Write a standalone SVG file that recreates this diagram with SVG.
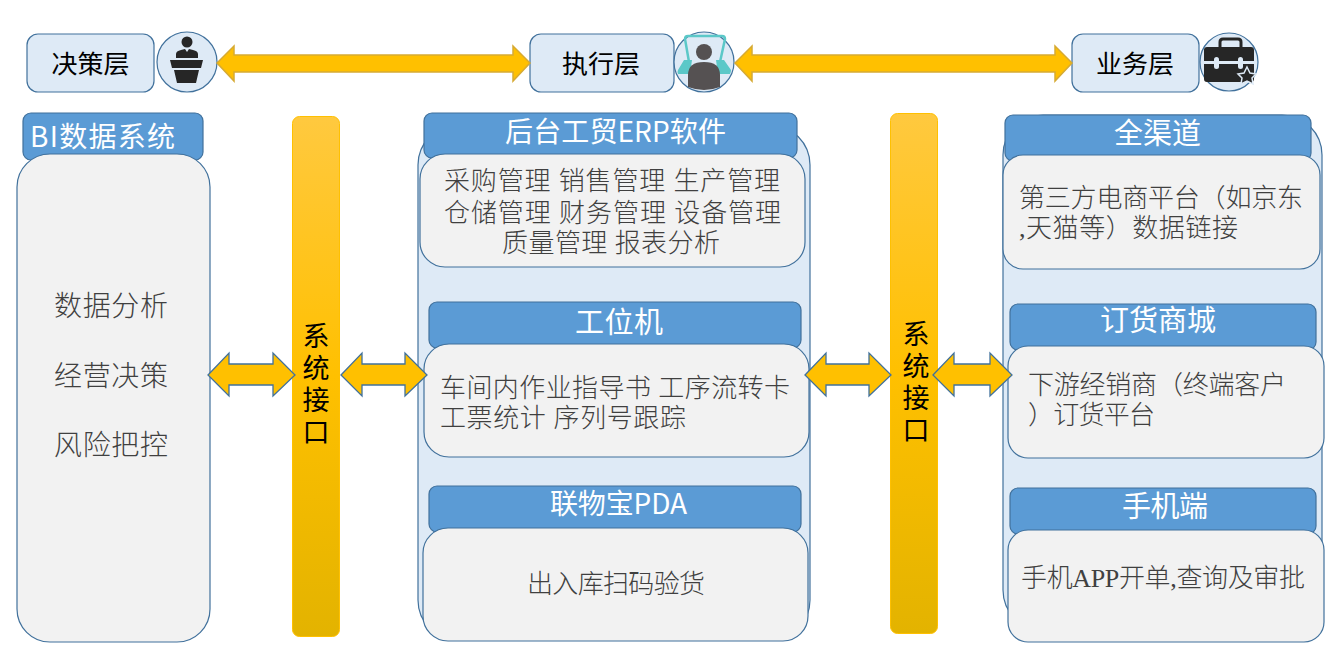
<svg xmlns="http://www.w3.org/2000/svg" width="1344" height="664" viewBox="0 0 1344 664">
<style>
text{font-family:"Liberation Serif","Noto Sans CJK SC",serif}
.s{font-family:"Noto Sans CJK SC",sans-serif}
.layer{fill:#deeaf6;stroke:#41719c;stroke-width:1.2}
.panel{fill:#deeaf6;stroke:#41719c;stroke-width:1.2}
.hd{fill:#5b9bd5;stroke:#41719c;stroke-width:1.2}
.bd{fill:#f2f2f2;stroke:#41719c;stroke-width:1.2}
.pillar{fill:url(#g);stroke:#ffc000;stroke-width:1}
.ta{fill:#ffc000;stroke:#d6aa33;stroke-width:1.5}
.da{fill:#ffc000;stroke:#41719c;stroke-width:1.3}
.lt{font-size:25px;fill:#000;text-anchor:middle}
.ht{font-size:28px;fill:#fff}
.bt{font-size:26px;fill:#404040;font-weight:300}
.pt{font-size:27px;fill:#000;text-anchor:middle}
</style>
<defs>
<linearGradient id="g" x1="0" y1="0" x2="0" y2="1">
<stop offset="0" stop-color="#ffc93f"/><stop offset="0.5" stop-color="#ffc000"/><stop offset="1" stop-color="#e3b300"/>
</linearGradient>
</defs>

<g id="layer-decision">
<rect class="layer" x="27" y="34" width="127" height="58" rx="11"/>
<text class="lt" x="90.500" y="73" textLength="78" lengthAdjust="spacingAndGlyphs">决策层</text>
<circle class="layer" cx="187" cy="62" r="30"/>
<circle cx="187" cy="42" r="5.500" fill="#262626"/>
<path d="M176,58 V54 Q176,51 181,50 L185,49 L187,52 L189,49 L193,50 Q198,51 198,54 V58 Z" fill="#262626"/>
<path d="M170,60 H203 L201,68 H172 Z M174,70 H199 L196,83 H177 Z" fill="#262626"/>
</g>

<g id="layer-exec">
<rect class="layer" x="530" y="34" width="144" height="58" rx="11"/>
<text class="lt" x="601" y="73" textLength="78" lengthAdjust="spacingAndGlyphs">执行层</text>
<circle class="layer" cx="704" cy="62" r="30"/>
<path d="M689,62 L685,39 Q685,36 688,36 H722 Q725,36 725,39 L720,62" fill="none" stroke="#5bc8c8" stroke-width="2.500"/>
<path d="M684,60 H692 L690,74 H678 Q677,72 678,70 Z M716,60 H724 L731,70 Q731,72 730,74 H718 Z" fill="#5bc8c8"/>
<circle cx="704" cy="52" r="8" fill="#555152"/>
<path d="M688,87 V75 Q688,62 704,62 Q720,62 720,75 V87 Q704,93 688,87 Z" fill="#555152"/>
</g>

<g id="layer-business">
<rect class="layer" x="1072" y="34" width="127" height="58" rx="11"/>
<text class="lt" x="1135" y="73" textLength="78" lengthAdjust="spacingAndGlyphs">业务层</text>
<circle class="layer" cx="1229" cy="62" r="29"/>
<path d="M1220,47 V42 Q1220,39 1223,39 H1238 Q1241,39 1241,42 V47" fill="none" stroke="#262626" stroke-width="3"/>
<path d="M1207,47 Q1204,47 1204,50 V61 H1254 V50 Q1254,47 1251,47 Z M1204,64 V79 Q1204,82 1207,82 H1251 Q1254,82 1254,79 V64 Z" fill="#262626"/>
<rect x="1214" y="57" width="5" height="12" rx="2.500" fill="#deeaf6"/>
<rect x="1238" y="57" width="5" height="12" rx="2.500" fill="#deeaf6"/>
<polygon points="1247,67 1250,73 1256,74 1252,78 1253,84 1247,81 1241,84 1242,78 1238,74 1244,73" fill="#262626" stroke="#deeaf6" stroke-width="1.500"/>
</g>

<g id="bi">
<rect class="hd" x="23" y="113" width="180" height="47" rx="8"/>
<text class="ht s" x="30" y="147" textLength="145">BI数据系统</text>
<rect class="bd" x="17" y="154" width="193" height="488" rx="33"/>
<text class="bt" x="54" y="316" font-size="28" style="font-size:28px" textLength="114">数据分析</text>
<text class="bt" x="54" y="386" style="font-size:28px" textLength="114">经营决策</text>
<text class="bt" x="54" y="455" style="font-size:28px" textLength="114">风险把控</text>
</g>

<g id="interface-1">
<rect class="pillar" x="292.500" y="116.500" width="47" height="520" rx="7"/>
<text class="pt" x="316" y="346">系</text>
<text class="pt" x="316" y="378">统</text>
<text class="pt" x="316" y="410">接</text>
<text class="pt" x="316" y="442">口</text>
</g>

<g id="erp-panel">
<rect class="panel" x="418" y="125" width="392" height="515" rx="40"/>
</g>
<g id="erp">
<rect class="hd" x="424" y="113" width="373" height="45" rx="8"/>
<text class="ht s" x="505" y="142" textLength="221">后台工贸ERP软件</text>
<rect class="bd" x="420" y="154" width="385" height="113" rx="25"/>
<text class="bt" x="444" y="190" textLength="336">采购管理 销售管理 生产管理</text>
<text class="bt" x="444" y="222" textLength="337">仓储管理 财务管理 设备管理</text>
<text class="bt" x="502" y="252" textLength="218">质量管理 报表分析</text>
</g>
<g id="station">
<rect class="hd" x="429" y="302" width="372" height="46" rx="8"/>
<text class="ht s" x="575" y="333" style="font-size:29px" textLength="88">工位机</text>
<rect class="bd" x="424" y="344" width="385" height="113" rx="25"/>
<text class="bt" x="440" y="397" textLength="350">车间内作业指导书 工序流转卡</text>
<text class="bt" x="440" y="427" textLength="246">工票统计 序列号跟踪</text>
</g>
<g id="pda">
<rect class="hd" x="429" y="486" width="372" height="46" rx="8"/>
<text class="ht s" x="550" y="514" textLength="137">联物宝PDA</text>
<rect class="bd" x="423" y="528" width="385" height="113" rx="25"/>
<text class="bt" x="527" y="593" textLength="178">出入库扫码验货</text>
</g>

<g id="interface-2">
<rect class="pillar" x="890.500" y="113.500" width="47" height="520" rx="7"/>
<text class="pt" x="916" y="344">系</text>
<text class="pt" x="916" y="376">统</text>
<text class="pt" x="916" y="408">接</text>
<text class="pt" x="916" y="440">口</text>
</g>

<g id="channel-panel">
<rect class="panel" x="1003" y="115" width="319" height="515" rx="40"/>
</g>
<g id="omni">
<rect class="hd" x="1005" y="115" width="306" height="46" rx="8"/>
<text class="ht s" x="1114" y="144" style="font-size:29px" textLength="87">全渠道</text>
<rect class="bd" x="1003" y="155" width="317" height="114" rx="20"/>
<text class="bt" x="1019" y="207" textLength="284">第三方电商平台（如京东</text>
<text class="bt" x="1019" y="237" textLength="219">,天猫等）数据链接</text>
</g>
<g id="mall">
<rect class="hd" x="1010" y="304" width="306" height="46" rx="8"/>
<text class="ht s" x="1100" y="331" style="font-size:29px" textLength="116">订货商城</text>
<rect class="bd" x="1008" y="346" width="316" height="112" rx="20"/>
<text class="bt" x="1028" y="394" textLength="258">下游经销商（终端客户</text>
<text class="bt" x="1028" y="424" textLength="127">）订货平台</text>
</g>
<g id="mobile">
<rect class="hd" x="1010" y="488" width="306" height="46" rx="8"/>
<text class="ht s" x="1122" y="517" style="font-size:29px" textLength="86">手机端</text>
<rect class="bd" x="1008" y="530" width="316" height="112" rx="20"/>
<text class="bt" x="1021" y="587" textLength="284">手机APP开单,查询及审批</text>
</g>

<g id="connectors">
<polygon class="ta" points="217,63 234,46 234,55 513,55 513,46 530,63 513,81 513,72 234,72 234,81"/>
<polygon class="ta" points="735,63 752,46 752,55 1055,55 1055,46 1072,63 1055,81 1055,72 752,72 752,81"/>
<polygon class="da" points="208,375 229,353 229,364 273,364 273,353 295,375 273,396 273,385 229,385 229,396"/>
<polygon class="da" points="341,375 362,353 362,364 405,364 405,353 427,375 405,396 405,385 362,385 362,396"/>
<polygon class="da" points="805,375 826,353 826,364 869,364 869,353 891,375 869,396 869,385 826,385 826,396"/>
<polygon class="da" points="933,375 954,353 954,364 990,364 990,353 1012,375 990,396 990,385 954,385 954,396"/>
</g>
</svg>
